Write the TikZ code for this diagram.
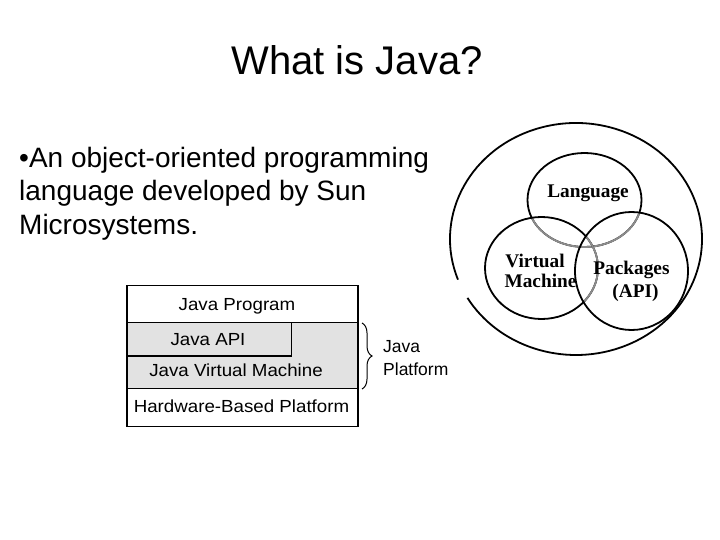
\documentclass[tikz,border=0pt]{standalone}
\usepackage{fontspec}
\setmainfont{Liberation Sans}
\newfontfamily\boxfont[FakeStretch=1.07]{Liberation Sans}
\newfontfamily\vennfont{Liberation Serif}
\usetikzlibrary{decorations.pathreplacing}
\definecolor{platgray}{HTML}{E2E2E2}
\definecolor{venngray}{HTML}{8C8C8C}
\begin{document}
\begin{tikzpicture}[x=1pt,y=-1pt,
  titletext/.style={font=\fontsize{40}{48}\selectfont, inner sep=0pt, anchor=base},
  bodytext/.style={font=\fontsize{28}{33}\selectfont, inner sep=0pt, anchor=base west},
  boxtext/.style={font=\boxfont\fontsize{17.5}{21}\selectfont, inner sep=0pt, anchor=base},
  platlabel/.style={font=\fontsize{17.5}{21}\selectfont, inner sep=0pt, anchor=base west},
  venntext/.style={font=\vennfont\bfseries\fontsize{19.3}{23}\selectfont, inner sep=0pt, anchor=base},
  boxline/.style={line width=1.4pt},
  vennline/.style={line width=1.8pt},
  vennthin/.style={line width=1.8pt, draw=venngray}
]
\path[use as bounding box] (0,0) rectangle (720,540);

% title
\node[titletext] (title) at (357,75) {What is Java?};

% bullet text
\node[bodytext] (b1) at (19,168) {•An object-oriented programming};
\node[bodytext] (b2) at (19,201) {language developed by Sun};
\node[bodytext] (b3) at (19,234.5) {Microsystems.};

% layered box diagram
\fill[platgray] (127,322.5) rectangle (358,388.5);
\draw[boxline] (127,285.5) rectangle (358,426.5);
\draw[boxline] (127,322.5) -- (358,322.5);
\draw[boxline] (127,388.5) -- (358,388.5);
\draw[boxline] (127,356) -- (291.5,356) -- (291.5,322.5);
\node[boxtext] (prog) at (237,310.5) {Java Program};
\node[boxtext] (api) at (208,345) {Java API};
\node[boxtext] (jvm) at (236,376.5) {Java Virtual Machine};
\node[boxtext] (hw) at (241.5,412.5) {Hardware-Based Platform};
\coordinate (bt) at (362,323);
\coordinate (bb) at (362,389);
\draw[line width=1pt, decorate, decoration={brace, amplitude=10pt}] (bt) -- (bb);
\node[platlabel] (pl1) at (383,352) {Java};
\node[platlabel] (pl2) at (383,375) {Platform};

% Venn diagram
\draw[vennline] (576,239) ++(159.5:126 and 116) arc[start angle=159.5, end angle=509.5, x radius=126, y radius=116];
\draw[vennline] (584.5,200) ellipse[x radius=57, y radius=47];
\begin{scope}
  \clip (541.5,268) ellipse[x radius=56.5, y radius=51];
  \draw[vennthin] (584.5,200) ellipse[x radius=57, y radius=47];
\end{scope}
\begin{scope}
  \clip (631.5,271) ellipse[x radius=56.5, y radius=59];
  \draw[vennthin] (584.5,200) ellipse[x radius=57, y radius=47];
\end{scope}
\draw[vennline] (541.5,268) ellipse[x radius=56.5, y radius=51];
\begin{scope}
  \clip (631.5,271) ellipse[x radius=56.5, y radius=59];
  \draw[vennthin] (541.5,268) ellipse[x radius=56.5, y radius=51];
\end{scope}
\draw[vennline] (631.5,271) ellipse[x radius=56.5, y radius=59];

\node[venntext] (lang) at (588,197.5) {Language};
\node[venntext] (vm1) at (535,267) {Virtual};
\node[venntext] (vm2) at (540.5,287) {Machine};
\node[venntext] (pk1) at (631.5,274.5) {Packages};
\node[venntext] (pk2) at (635.5,297) {(API)};
\end{tikzpicture}
\end{document}
